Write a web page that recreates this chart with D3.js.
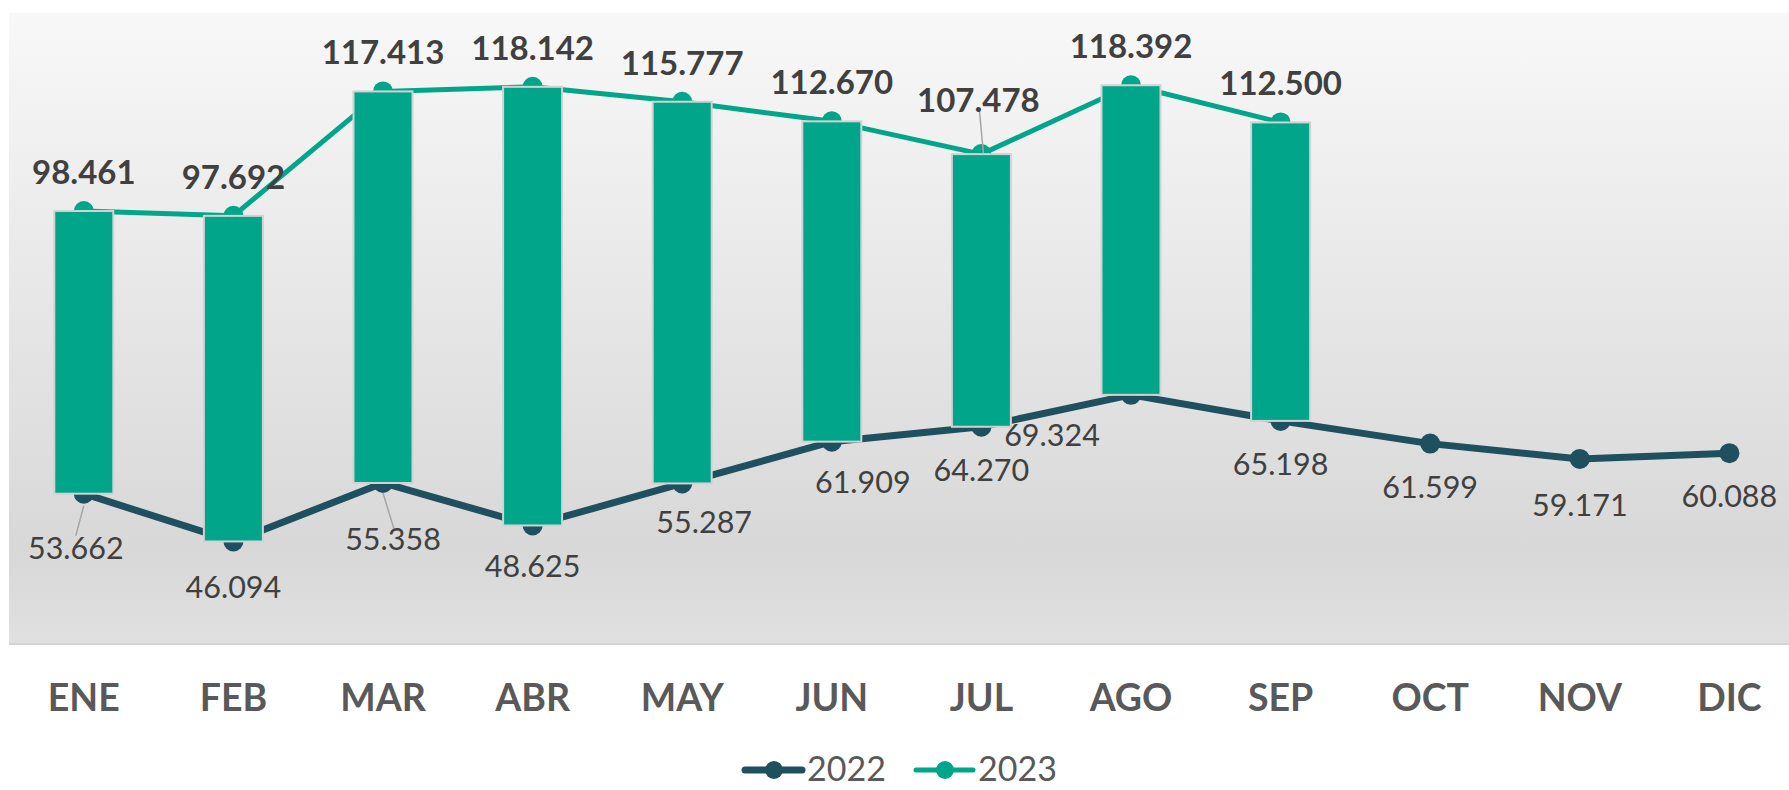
<!DOCTYPE html>
<html>
<head>
<meta charset="utf-8">
<script src="https://cdn.jsdelivr.net/npm/d3@7"></script>
<style>
  html, body { margin: 0; padding: 0; background: #fff; }
  svg { display: block; font-family: Lato, "Open Sans", sans-serif; }
</style>
</head>
<body>
<svg id="chart" width="1789" height="790"></svg>
<script>
const months = ['ENE','FEB','MAR','ABR','MAY','JUN','JUL','AGO','SEP','OCT','NOV','DIC']
const values2022 = [53.662, 46.094, 55.358, 48.625, 55.287, 61.909, 64.270, 69.324, 65.198, 61.599, 59.171, 60.088]
const values2023 = [98.461, 97.692, 117.413, 118.142, 115.777, 112.670, 107.478, 118.392, 112.500]
const seriesNames = ['2022', '2023']

// label nudges (px) for the labels Excel had moved by hand
const nudge2022 = [[-8,11],[0,3],[10,13],[0,-2],[22,-4],[31,-3],[0,0],[-79,-3],[0,0],[0,0],[0,3],[0,0]]
const nudge2023 = [[0,0],[0,0],[0,0],[0,0],[0,0],[0,0],[-3,-15],[0,0],[0,0]]

const colors = { '2022': '#1f505f', '2023': '#00a58a' }
const fmt = v => d3.format('.3f')(v)

const svg = d3.select('#chart')
const W = 1789
const plot = { left: 9, top: 13, bottom: 643 }
const step = 149.6

const x = d3.scaleBand().domain(months).range([plot.left, plot.left + step * months.length])
const y = d3.scaleLinear().domain([30, 130]).range([643, 12])
const cx = m => x(m) + x.bandwidth() / 2

// background gradient
const defs = svg.append('defs')
const grad = defs.append('linearGradient').attr('id', 'bg').attr('x1', 0).attr('y1', 0).attr('x2', 0).attr('y2', 1)
grad.append('stop').attr('offset', '0%').attr('stop-color', '#f8f8f8')
grad.append('stop').attr('offset', '85%').attr('stop-color', '#d8d8d8')
grad.append('stop').attr('offset', '100%').attr('stop-color', '#e0e0e0')

svg.append('rect')
  .attr('x', plot.left).attr('y', plot.top)
  .attr('width', W - plot.left).attr('height', plot.bottom - plot.top)
  .attr('fill', 'url(#bg)')
svg.append('line')
  .attr('x1', plot.left).attr('x2', W)
  .attr('y1', plot.bottom + 1).attr('y2', plot.bottom + 1)
  .attr('stroke', '#d4d4d4').attr('stroke-width', 2)

const d22 = months.map((m, i) => ({ m, v: values2022[i], i }))
const d23 = values2023.map((v, i) => ({ m: months[i], v, i }))

const line = d3.line().x(d => cx(d.m)).y(d => y(d.v))

// lines + markers
svg.append('path').datum(d22).attr('d', line)
  .attr('fill', 'none').attr('stroke', colors['2022']).attr('stroke-width', 7).attr('stroke-linejoin', 'round')
svg.append('g').selectAll('circle').data(d22).join('circle')
  .attr('cx', d => cx(d.m)).attr('cy', d => y(d.v)).attr('r', 10).attr('fill', colors['2022'])

svg.append('path').datum(d23).attr('d', line)
  .attr('fill', 'none').attr('stroke', colors['2023']).attr('stroke-width', 5).attr('stroke-linejoin', 'round')
svg.append('g').selectAll('circle').data(d23).join('circle')
  .attr('cx', d => cx(d.m)).attr('cy', d => y(d.v)).attr('r', 10).attr('fill', colors['2023'])

// up-down bars
const barW = 59
svg.append('g').selectAll('rect').data(d23).join('rect')
  .attr('x', d => cx(d.m) - barW / 2)
  .attr('y', d => y(Math.max(d.v, values2022[d.i])))
  .attr('width', barW)
  .attr('height', d => Math.abs(y(d.v) - y(values2022[d.i])))
  .attr('fill', '#00a58a')
  .attr('stroke', '#d2d2d2').attr('stroke-width', 2)

// leader lines
const leader = [
  { p: [cx('ENE'), y(values2022[0]) + 12], q: [cx('ENE') - 8, y(values2022[0]) + 42] },
  { p: [cx('MAR'), y(values2022[2]) + 10], q: [cx('MAR') + 11, y(values2022[2]) + 46] },
  { p: [cx('JUL') - 2, y(values2023[6]) - 44], q: [cx('JUL') + 2, y(values2023[6]) - 1] }
]
svg.append('g').selectAll('line').data(leader).join('line')
  .attr('x1', d => d.p[0]).attr('y1', d => d.p[1])
  .attr('x2', d => d.q[0]).attr('y2', d => d.q[1])
  .attr('stroke', '#a6a6a6').attr('stroke-width', 1.5)

// data labels
svg.append('g').selectAll('text').data(d22).join('text')
  .attr('x', d => cx(d.m) + nudge2022[d.i][0])
  .attr('y', d => y(d.v) + 54 + nudge2022[d.i][1])
  .attr('text-anchor', 'middle')
  .attr('font-size', 30.5).attr('fill', '#404040')
  .text(d => fmt(d.v))

svg.append('g').selectAll('text').data(d23).join('text')
  .attr('x', d => cx(d.m) + nudge2023[d.i][0])
  .attr('y', d => y(d.v) - 27 + nudge2023[d.i][1])
  .attr('text-anchor', 'middle')
  .attr('font-size', 33).attr('font-weight', 'bold').attr('fill', '#404040')
  .text(d => fmt(d.v))

// x axis
const xAxis = d3.axisBottom(x).tickSize(0).tickPadding(0)
svg.append('g').attr('transform', `translate(0, 711)`)
  .call(xAxis)
  .call(g => g.select('.domain').remove())
  .call(g => g.selectAll('.tick text')
    .attr('dy', 0).attr('y', 0)
    .attr('font-family', 'Lato, sans-serif')
    .attr('font-size', 37.5).attr('font-weight', 'bold').attr('fill', '#595959'))

// legend
const legend = svg.append('g')
const legendX = [745, 916]
seriesNames.forEach((s, i) => {
  const g = legend.append('g').attr('transform', `translate(${legendX[i]}, 770)`)
  g.append('line').attr('x1', 0).attr('x2', 57).attr('y1', 0).attr('y2', 0)
    .attr('stroke', colors[s]).attr('stroke-width', s === '2022' ? 7 : 5).attr('stroke-linecap', 'round')
  g.append('circle').attr('cx', 29).attr('r', 9).attr('fill', colors[s])
  g.append('text').attr('x', 62).attr('y', 11)
    .attr('font-size', 34).attr('fill', '#595959').text(s)
})
</script>
</body>
</html>
